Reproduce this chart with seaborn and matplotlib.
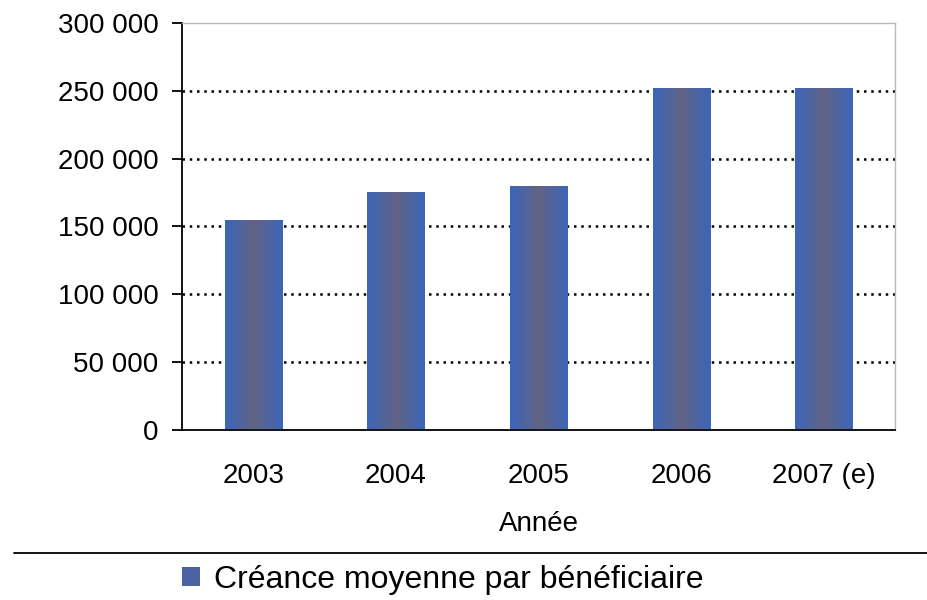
import matplotlib
matplotlib.use("Agg")

import matplotlib.pyplot as plt
import seaborn as sns
import numpy as np
from matplotlib.colors import LinearSegmentedColormap
from matplotlib.lines import Line2D
from matplotlib.patches import Patch
from matplotlib.ticker import FuncFormatter, MultipleLocator

# Data
years = ["2003", "2004", "2005", "2006", "2007 (e)"]
creance = [154500, 175500, 180000, 252000, 252000]
series_label = "Créance moyenne par bénéficiaire"

sns.set_theme(style="white")
plt.rcParams["font.family"] = ["Liberation Sans", "DejaVu Sans"]

BLUE = "#3C66BA"
GREY = "#626384"
bar_cmap = LinearSegmentedColormap.from_list("bar", [BLUE, GREY, BLUE])

fig = plt.figure(figsize=(9.27, 6.0), dpi=100)
ax = fig.add_axes([182 / 927, 1 - 429.5 / 600, (895 - 182) / 927, (429.5 - 23.3) / 600])

sns.barplot(x=years, y=creance, color=BLUE, width=0.4, ax=ax, zorder=3)

# horizontal gradient inside every bar (blue edges, grey middle)
gradient = np.linspace(0, 1, 256).reshape(1, -1)
for bar in list(ax.patches):
    x0, y0 = bar.get_x(), bar.get_y()
    w, h = bar.get_width(), bar.get_height()
    img = ax.imshow(gradient, cmap=bar_cmap, aspect="auto",
                    extent=[x0, x0 + w, y0, y0 + h], zorder=3)
    img.set_clip_path(bar)
    bar.set_facecolor("none")
    bar.set_edgecolor("none")

ax.set_xlim(-0.5, 4.5)
ax.set_ylim(0, 300000)
ax.yaxis.set_major_locator(MultipleLocator(50000))
ax.yaxis.set_major_formatter(FuncFormatter(lambda v, _: f"{v:,.0f}".replace(",", " ")))

# dotted gridlines at each level between 0 and the top
for level in range(50000, 300000, 50000):
    ax.axhline(level, color="black", linestyle=(0, (1.0, 1.9)), linewidth=1.8, zorder=1)

for side in ("left", "bottom"):
    ax.spines[side].set_color("black")
    ax.spines[side].set_linewidth(1.3)
for side in ("top", "right"):
    ax.spines[side].set_color("#B8B8B8")
    ax.spines[side].set_linewidth(1.0)

ax.set_xticks(np.arange(-0.5, 5), minor=True)
ax.tick_params(axis="x", which="major", length=0, pad=24, labelsize=20, colors="black")
ax.tick_params(axis="x", which="minor", length=7, width=1.3, direction="out", color="black")
ax.tick_params(axis="y", length=7, width=1.3, direction="out", left=True, pad=10,
               labelsize=20, colors="black")

ax.set_xlabel("Année", fontsize=20, color="black", labelpad=16)
ax.set_ylabel("")

# separator line above the legend
fig.add_artist(Line2D([14 / 927, 1.0], [1 - 553 / 600, 1 - 553 / 600],
                      color="black", linewidth=1.3))

handle = Patch(facecolor="#4A62A2", edgecolor="none")
fig.legend([handle], [series_label], loc="center", bbox_to_anchor=(0.478, 1 - 580 / 600),
           frameon=False, fontsize=23, labelcolor="black", handlelength=0.55,
           handleheight=0.55, handletextpad=0.45, borderpad=0)

fig.savefig("out.png", dpi=100)
plt.close(fig)
